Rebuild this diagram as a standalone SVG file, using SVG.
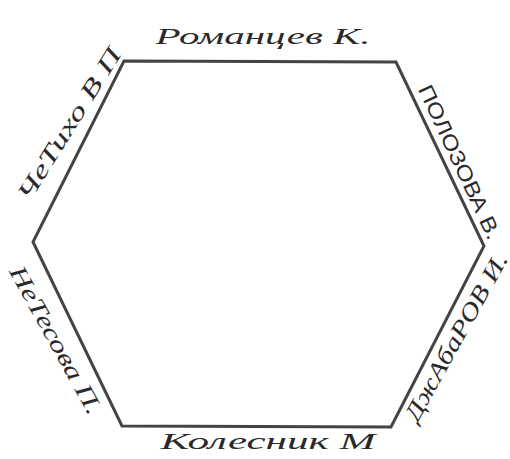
<svg xmlns="http://www.w3.org/2000/svg" width="510" height="459" viewBox="0 0 510 459">
  <style>
    .edge { fill: none; stroke: #444; stroke-width: 3; stroke-linejoin: miter; }
    .lbl { font-family: "Liberation Serif", "DejaVu Serif", serif; font-style: italic; font-size: 24px; fill: #2a2a2a; text-anchor: middle; dominant-baseline: central; }
    .print { font-family: "Liberation Sans", "DejaVu Sans", sans-serif; font-style: normal; font-size: 21px; }
  </style>
  <rect width="510" height="459" fill="#ffffff"/>
  <g id="hexagon">
    <polygon class="edge" points="124,61 396,62 484,246 391,427 122,426 33,242"/>
  </g>
  <g id="labels">
    <g id="label-top">
      <text class="lbl" x="263" y="36" textLength="215" lengthAdjust="spacingAndGlyphs">Романцев К.</text>
    </g>
    <g id="label-right-upper" transform="translate(460,162) rotate(65)">
      <text class="lbl print" x="0" y="0" textLength="168" lengthAdjust="spacingAndGlyphs">ПОЛОЗОВА В.</text>
    </g>
    <g id="label-right-lower" transform="translate(456,337) rotate(-61)">
      <text class="lbl" x="0" y="0" textLength="188" lengthAdjust="spacingAndGlyphs">ДжАбаРОВ И.</text>
    </g>
    <g id="label-bottom">
      <text class="lbl" x="268" y="441" textLength="215" lengthAdjust="spacingAndGlyphs">Колесник М</text>
    </g>
    <g id="label-left-lower" transform="translate(56,340) rotate(61)">
      <text class="lbl" x="0" y="0" textLength="166" lengthAdjust="spacingAndGlyphs">НеТесова П.</text>
    </g>
    <g id="label-left-upper" transform="translate(69,124) rotate(-58)">
      <text class="lbl" x="0" y="0" textLength="175" lengthAdjust="spacingAndGlyphs">ЧеТихо В П</text>
    </g>
  </g>
</svg>
